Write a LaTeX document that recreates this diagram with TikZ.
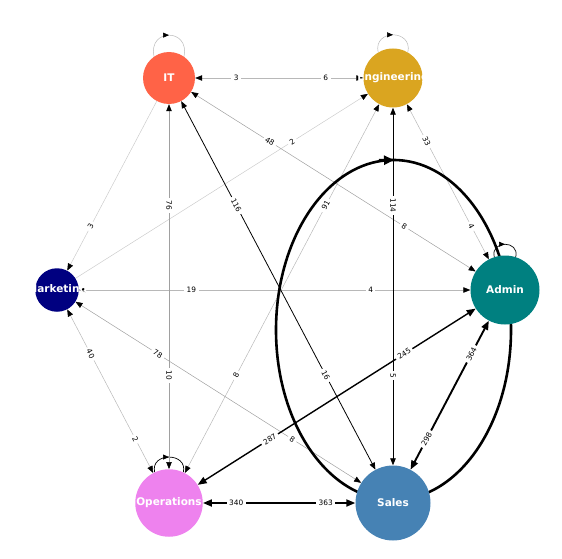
\documentclass[tikz,border=0pt]{standalone}
\usepackage{fontspec}
\setmainfont{DejaVu Sans}
\usetikzlibrary{arrows.meta,backgrounds,decorations.markings}
\definecolor{cIT}{HTML}{FF6347}
\definecolor{cEng}{HTML}{DAA520}
\definecolor{cMkt}{HTML}{000080}
\definecolor{cAdm}{HTML}{008080}
\definecolor{cOps}{HTML}{EE82EE}
\definecolor{cSal}{HTML}{4682B4}
\definecolor{gA}{HTML}{CCCCCC}
\definecolor{gB}{HTML}{B8B8B8}
\definecolor{gC}{HTML}{A0A0A0}
\tikzset{
  dept/.style={circle, draw=none, inner sep=0pt},
  dname/.style={text=white, font=\bfseries\fontsize{10.5}{12}\selectfont, inner sep=0pt},
  elab/.style={fill=white, text=black, font=\fontsize{7.4}{8}\selectfont, inner xsep=2.5pt, inner ysep=1pt, sloped},
  tipone/.style={-{Triangle[length=7pt,width=5.5pt,color=black]}},
  tipboth/.style={{Triangle[length=7pt,width=5.5pt,color=black]}-{Triangle[length=7pt,width=5.5pt,color=black]}},
  tipbig/.style={{Triangle[length=9pt,width=7pt]}-{Triangle[length=9pt,width=7pt]}},
  ewA/.style={draw=gA, line width=0.5pt},
  ewB/.style={draw=gB, line width=0.5pt},
  ewC/.style={draw=gC, line width=0.5pt},
  ewblk/.style={draw=black, line width=0.8pt},
  ewthk/.style={draw=black, line width=1.4pt},
  ewthkk/.style={draw=black, line width=1.9pt},
  selfloop/.style={postaction={decorate}, decoration={markings, mark=at position 0.5 with {\arrow{Triangle[length=6pt,width=5pt,color=black]}}}}
}
\begin{document}
\begin{tikzpicture}[x=1pt,y=-1pt]
\useasboundingbox (0,0) rectangle (562,559);
% nodes
\node[dept, fill=cIT,  minimum size=52pt] (IT)  at (169,78)  {};
\node[dept, fill=cEng, minimum size=59pt] (Eng) at (393,78)  {};
\node[dept, fill=cMkt, minimum size=43.5pt] (Mkt) at (57,290)  {};
\node[dept, fill=cAdm, minimum size=69pt] (Adm) at (505,290) {};
\node[dept, fill=cOps, minimum size=67.5pt] (Ops) at (169,503) {};
\node[dept, fill=cSal, minimum size=75pt] (Sal) at (393,503) {};
\node[dname] at (IT)  {IT};
\node[dname] at (Eng) {Engineering};
\node[dname] at (Mkt) {Marketing};
\node[dname] at (Adm) {Admin};
\node[dname] at (Ops) {Operations};
\node[dname] at (Sal) {Sales};
\begin{pgfonlayer}{background}
  % self loops
  \draw[ewB, selfloop] (IT.125) .. controls (148,28) and (190,28) .. (IT.55);
  \draw[ewB, selfloop] (Eng.120) .. controls (373,29) and (413,29) .. (Eng.60);
  \draw[ewblk, line width=0.7pt, selfloop] (Adm.108) .. controls (490,240) and (520,240) .. (Adm.72);
  \draw[ewblk, line width=0.7pt, selfloop] (Ops.115) .. controls (150,452) and (188,452) .. (Ops.65);
  % gray edges
  \draw[ewB, tipboth] (IT) -- (Eng);
  \draw[ewA, tipone] (IT) -- (Mkt);
  \draw[ewA, tipone] (Mkt) -- (Eng);
  \draw[ewB, tipboth] (Mkt) -- (Adm);
  \draw[ewC, tipboth] (IT) -- (Ops);
  \draw[ewC, tipboth] (IT) -- (Adm);
  \draw[ewB, tipboth] (Eng) -- (Adm);
  \draw[ewB, tipboth] (Eng) -- (Ops);
  \draw[ewB, tipboth] (Mkt) -- (Ops);
  \draw[ewC, tipboth] (Mkt) -- (Sal);
  % black edges
  \draw[ewblk, tipboth] (IT) -- (Sal);
  \draw[ewblk, tipboth] (Eng) -- (Sal);
  \draw[ewthk, tipbig] (Ops) -- (Adm);
  \draw[ewthkk, tipbig] (Sal) -- (Adm);
  \draw[ewthkk, tipbig] (Ops) -- (Sal);
  % Sales self-loop (large)
  \draw[line width=2.6pt] (393.5,330) ellipse [x radius=117.5pt, y radius=170pt];
  \coordinate (loopA) at (379,160.3);
  \coordinate (loopB) at (394,160);
  \draw[line width=2.6pt, -{Triangle[length=10pt,width=9pt]}] (loopA) -- (loopB);
\end{pgfonlayer}
% edge labels
\path (IT.center) -- node[elab,pos=.3]{3} node[elab,pos=.7]{6} (Eng.center);
\path (IT.center) -- node[elab,pos=.7]{3} (Mkt.center);
\path (Mkt.center) -- node[elab,pos=.7]{2} (Eng.center);
\path (Mkt.center) -- node[elab,pos=.3]{19} node[elab,pos=.7]{4} (Adm.center);
\path (IT.center) -- node[elab,pos=.3]{76} node[elab,pos=.7]{10} (Ops.center);
\path (IT.center) -- node[elab,pos=.3]{116} node[elab,pos=.7]{16} (Sal.center);
\path (IT.center) -- node[elab,pos=.3]{48} node[elab,pos=.7]{8} (Adm.center);
\path (Eng.center) -- node[elab,pos=.3]{33} node[elab,pos=.7]{4} (Adm.center);
\path (Eng.center) -- node[elab,pos=.3]{91} node[elab,pos=.7]{8} (Ops.center);
\path (Eng.center) -- node[elab,pos=.3]{114} node[elab,pos=.7]{5} (Sal.center);
\path (Mkt.center) -- node[elab,pos=.3]{40} node[elab,pos=.7]{2} (Ops.center);
\path (Mkt.center) -- node[elab,pos=.3]{78} node[elab,pos=.7]{8} (Sal.center);
\path (Ops.center) -- node[elab,pos=.3]{287} node[elab,pos=.7]{245} (Adm.center);
\path (Sal.center) -- node[elab,pos=.3]{298} node[elab,pos=.7]{364} (Adm.center);
\path (Ops.center) -- node[elab,pos=.3]{340} node[elab,pos=.7]{363} (Sal.center);
\end{tikzpicture}
\end{document}
